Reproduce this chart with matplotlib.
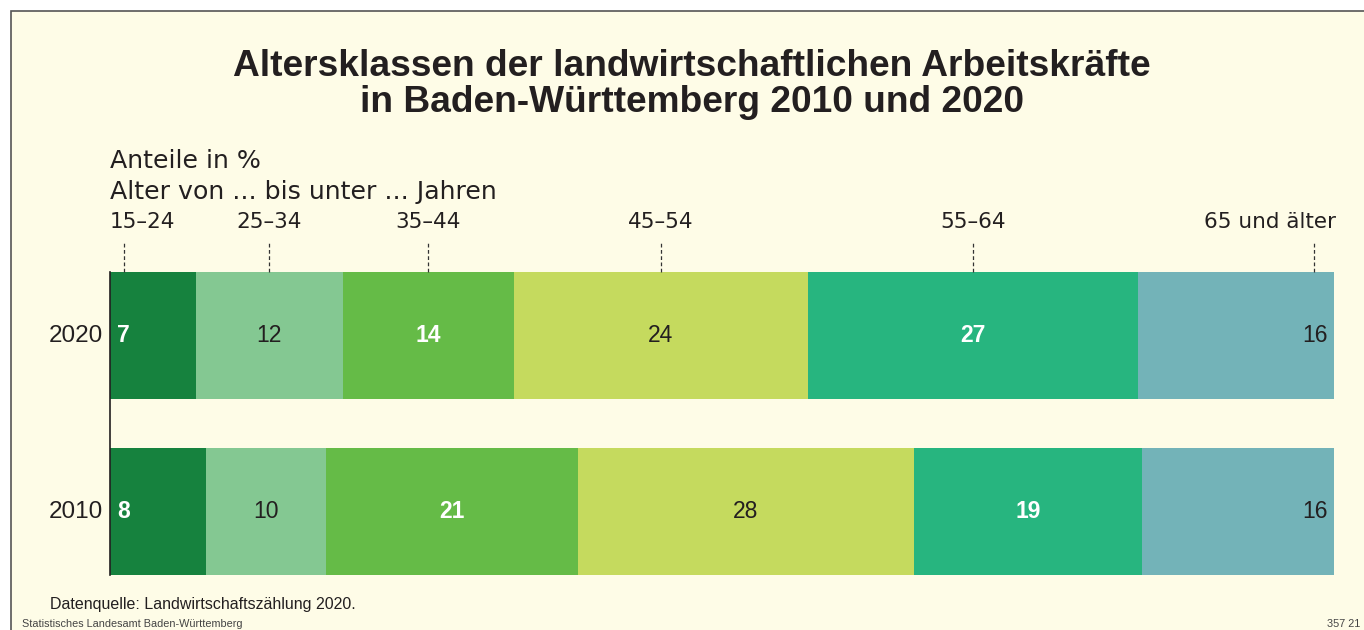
import numpy as np
import matplotlib
matplotlib.use("Agg")
import matplotlib.pyplot as plt
from matplotlib.patches import Rectangle

# data: shares of agricultural workers by age class (percent)
age_classes = ["15–24", "25–34", "35–44", "45–54", "55–64", "65 und älter"]
years = ["2020", "2010"]
shares_2020 = [7, 12, 14, 24, 27, 16]
shares_2010 = [8, 10, 21, 28, 19, 16]

colors = ["#16823E", "#84C892", "#65BB47", "#C5DA5E", "#27B57F", "#73B3B8"]
white_label = [True, False, True, False, True, False]
bg = "#FEFCE7"
txt = "#231F20"

plt.rcParams["font.family"] = ["Liberation Sans", "DejaVu Sans"]
wide = ["DejaVu Sans"]

W, H = 1364, 630
fig = plt.figure(figsize=(W / 100, H / 100), dpi=100, facecolor="white")

# cream panel with grey frame at top/left
fig.patches.append(Rectangle((11 / W, -0.1), 1.3, 1 - 11 / H + 0.1,
                             transform=fig.transFigure, facecolor=bg,
                             edgecolor="#555555", linewidth=1.2, zorder=-1))

ax = fig.add_axes([110 / W, 1 - 575 / H, 1224 / W, 303 / H])
ax.set_facecolor("none")
bar_h = 127 / 176
ax.set_xlim(0, 100)
ax.set_ylim(-bar_h / 2, 1 + bar_h / 2)
for s in ax.spines.values():
    s.set_visible(False)
ax.set_xticks([])
ax.set_yticks([])

rows = {1: shares_2020, 0: shares_2010}
label_x = {}
for ypos, vals in rows.items():
    vals = np.array(vals, dtype=float)
    widths = vals / vals.sum() * 100  # rounded figures, scale to 100 %
    lefts = np.concatenate([[0], np.cumsum(widths)[:-1]])
    ax.barh(ypos, widths, left=lefts, height=bar_h, color=colors, linewidth=0)
    xs = []
    for i, (l, w, v) in enumerate(zip(lefts, widths, vals)):
        if i == 0:
            x, ha = l + 0.6, "left"
        elif i == len(vals) - 1:
            x, ha = l + w - 0.5, "right"
        else:
            x, ha = l + w / 2, "center"
        c = "white" if white_label[i] else txt
        ax.text(x, ypos, f"{int(v)}", ha=ha, va="center", fontsize=16.5,
                color=c, fontweight="bold" if white_label[i] else "normal")
        xs.append(l + 1.15 if i == 0 else (l + w - 1.65 if i == len(vals) - 1 else l + w / 2))
    if ypos == 1:
        label_x = xs
    ax.text(-0.6, ypos, years[1 - ypos], ha="right", va="center",
            fontsize=17.5, color=txt)

# left axis line
ax.plot([0, 0], [-bar_h / 2, 1 + bar_h / 2], color=txt, lw=1.2, clip_on=False)

# dashed leader lines and age class labels
top = 1 + bar_h / 2
for i, (x, lab) in enumerate(zip(label_x, age_classes)):
    ax.plot([x, x], [top, top + 30 / 176], color="#333333", lw=0.9,
            ls=(0, (3, 2)), clip_on=False)
    if i == 0:
        tx, ha = 0, "left"
    elif i == len(age_classes) - 1:
        tx, ha = 100.2, "right"
    else:
        tx, ha = x, "center"
    ax.text(tx, top + 50 / 176, lab, ha=ha, va="center", fontsize=15.5,
            color=txt, family=wide)

title_font = ["Liberation Sans Narrow", "Liberation Sans"]
fig.text(692 / W, 1 - 67 / H, "Altersklassen der landwirtschaftlichen Arbeitskräfte",
         ha="center", va="center", fontsize=26.7, fontweight="bold", color=txt,
         family=title_font)
fig.text(692 / W, 1 - 103 / H, "in Baden-Württemberg 2010 und 2020",
         ha="center", va="center", fontsize=26.7, fontweight="bold", color=txt,
         family=title_font)

fig.text(110 / W, 1 - 161 / H, "Anteile in %", ha="left", va="center",
         fontsize=18.2, color=txt, family=wide)
fig.text(110 / W, 1 - 192 / H, "Alter von ... bis unter ... Jahren", ha="left",
         va="center", fontsize=18.2, color=txt, family=wide)

fig.text(50 / W, 1 - 604 / H, "Datenquelle: Landwirtschaftszählung 2020.",
         ha="left", va="center", fontsize=11.5, color=txt)
fig.text(22 / W, 1 - 624 / H, "Statistisches Landesamt Baden-Württemberg",
         ha="left", va="center", fontsize=7.8, color="#444444")
fig.text(1360 / W, 1 - 624 / H, "357 21", ha="right", va="center",
         fontsize=7.8, color="#444444")

fig.savefig("out.png", dpi=100, facecolor=fig.get_facecolor())
